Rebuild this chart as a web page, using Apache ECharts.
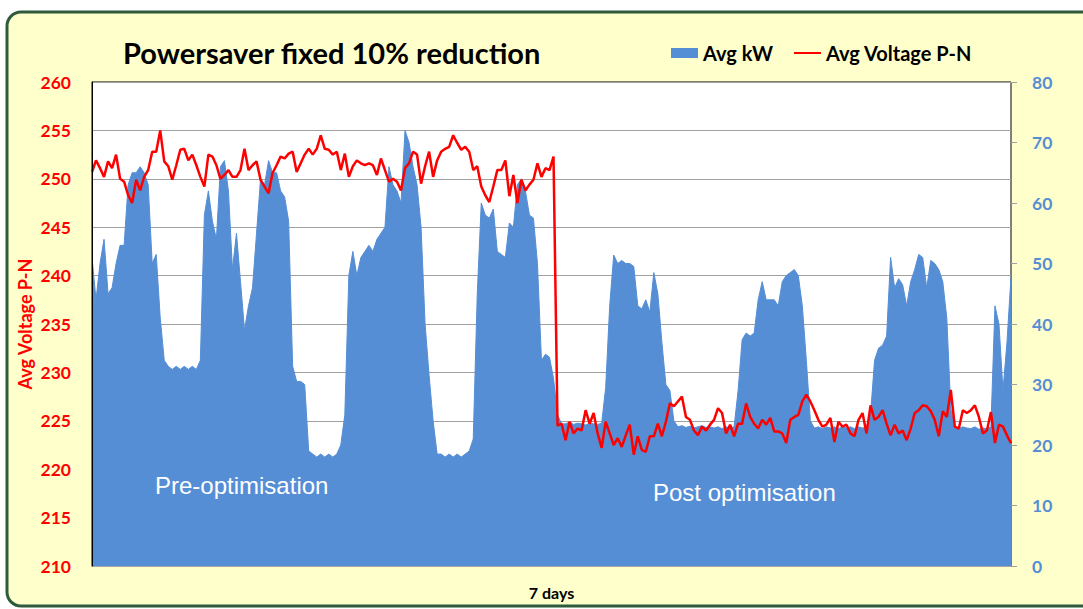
<!DOCTYPE html>
<html>
<head>
<meta charset="utf-8">
<script src="https://cdn.jsdelivr.net/npm/echarts@6/dist/echarts.min.js"></script>
<style>
html,body{margin:0;padding:0;background:#fff;}
#chart{width:1083px;height:609px;}
</style>
</head>
<body>
<div id="chart"></div>
<script>
// ---- data (7 days, evenly spaced samples) ----
const kwValues = [
51,44,50,54,45,46,50,53,53,63,
65,65,66,65,63,50,51.5,41,34,33,
32.5,33,32.5,33,32.5,33,32.5,34,58,62,
57,54,66,67,62,49,55,47,39,43,
46,55,64,63,67,65,65,62,61,57,
33,30.5,30.5,30,19,18.5,18,18.5,18,18.5,
18,18.5,20,25,48,52,48,51,52,53,
52,54,55,56,66,63,62,60,72,70,
66,63,56,40,31.5,24,18.5,18.5,18,18.5,
18,18.5,18,18.5,19,21,45,60,58,57.5,
59,52,51.5,51,56.7,56,63,64,62,58,
57.5,50,34,35,34.5,31,25,23.5,23.5,23.8,
23.4,23.6,23.5,23.3,23.6,23.5,23.4,23.6,29.5,43,
51.4,50,50.5,50,50,49.5,43,42.5,44,42,
48.5,45,37,30,29,24,23,23.2,22.9,23.1,
22.8,23,23.2,22.9,23,22.8,23,22.7,23,22.8,
23,29,37.4,38.5,38,38.5,44,47,44,44,
44,43,47,48,48.5,49,48,43,34,24,
22.8,23,22.7,23,22.8,23,22.7,23,22.8,23,
22.7,23,22.8,23,25,34,36,36.5,38,51,
46,47.5,46.5,43,47,49,51.5,51,46,50.5,
50,49,47,41,26,22.8,22.7,23,22.8,22.7,
23,22.6,22.8,22.7,23,43,40,29,37,47.8
];
const voltageValues = [
250.7,251.9,251.1,250.2,251.8,251.1,252.5,250.0,249.7,248.3,
247.5,249.9,248.8,250.2,250.9,252.8,252.8,255.0,251.8,251.3,
249.9,251.4,253.0,253.1,251.9,252.5,251.4,250.2,249.2,252.5,
252.3,251.4,250.0,250.4,250.9,250.2,250.2,250.9,253.1,250.9,
251.4,251.8,249.9,249.2,248.5,250.6,251.4,252.3,252.1,252.6,
252.8,250.7,251.6,252.5,253.1,252.5,253.1,254.5,253.1,253.0,
252.5,252.8,250.9,252.6,250.2,251.3,251.9,251.6,251.4,251.6,
251.4,250.4,252.1,250.9,249.7,250.0,249.7,248.8,251.1,251.6,
252.8,252.5,249.5,251.3,252.8,250.2,251.9,252.8,253.1,253.3,
254.5,253.7,253.0,253.3,252.8,250.9,251.3,249.2,248.3,247.6,
249.2,250.9,250.9,251.9,248.2,250.4,247.5,249.9,248.8,249.4,
249.9,251.6,250.2,251.1,250.9,252.3,224.5,224.7,223.0,224.9,
223.7,224.2,224.0,226.1,224.7,225.8,223.7,222.2,224.9,223.7,
222.5,223.2,222.3,223.5,224.6,221.5,223.4,222.0,221.8,223.4,
223.4,224.7,223.4,224.9,226.8,226.5,227.0,227.5,225.4,225.1,
224.0,223.5,224.4,224.0,224.6,225.1,226.3,225.8,223.7,224.6,
223.4,224.7,224.7,226.8,225.4,224.7,224.2,225.1,224.6,225.3,
223.9,223.9,223.7,222.7,225.1,225.4,225.6,227.0,227.7,227.0,
226.1,225.1,224.4,224.6,225.3,222.8,224.9,224.4,224.6,223.7,
223.4,225.1,225.8,223.7,226.6,225.1,225.4,226.1,224.7,223.5,
224.6,223.7,224.0,223.0,224.2,225.8,226.1,226.6,226.5,226.0,
225.1,223.4,226.0,225.4,228.2,224.4,224.2,226.1,225.8,226.1,
226.6,225.4,223.7,224.0,225.9,222.7,224.6,224.4,223.5,222.7
];
const xCategories = kwValues.map((_, i) => String(i + 1));
const voltageTicks = { min: 210, max: 260, step: 5 };
const kwTicks = { min: 0, max: 80, step: 10 };
const titleText = 'Powersaver fixed 10% reduction';
const xAxisTitle = '7 days';
const leftAxisTitle = 'Avg Voltage P-N';
const seriesNames = ['Avg kW', 'Avg Voltage P-N'];
const noteTexts = ['Pre-optimisation', 'Post optimisation'];

const BLUE = '#558ED5';
const RED = '#FF0000';
const FONT = 'Lato';
const NOTE_FONT = '24px "Liberation Sans", Arial, sans-serif';

const chart = echarts.init(document.getElementById('chart'), null, { renderer: 'svg' });
chart.setOption({
  backgroundColor: '#ffffff',
  animation: false,
  graphic: [
    { type: 'rect', z: -10, silent: true,
      shape: { x: 7, y: 12, width: 1100, height: 594, r: 14 },
      style: { fill: '#FFFFCC', stroke: '#2D5B3C', lineWidth: 3 } },
    { type: 'text', z: 100, left: 155, top: 473,
      style: { text: noteTexts[0], fill: '#ffffff', font: NOTE_FONT } },
    { type: 'text', z: 100, left: 653, top: 480,
      style: { text: noteTexts[1], fill: '#ffffff', font: NOTE_FONT } }
  ],
  title: {
    text: titleText, left: 118, top: 33,
    textStyle: { fontFamily: FONT, fontWeight: 'bold', fontSize: 29, color: '#000' }
  },
  legend: {
    left: 666, top: 38, itemWidth: 27, itemHeight: 10, itemGap: 20,
    textStyle: { fontFamily: FONT, fontWeight: 'bold', fontSize: 20, color: '#000' },
    data: [
      { name: seriesNames[0], icon: 'rect' },
      { name: seriesNames[1], itemStyle: { opacity: 0, borderWidth: 0 }, lineStyle: { width: 2 } }
    ]
  },
  grid: {
    left: 92, right: 72, top: 82, bottom: 43,
    show: true, backgroundColor: '#ffffff', borderColor: '#000', borderWidth: 1
  },
  xAxis: {
    type: 'category', data: xCategories, boundaryGap: false,
    name: xAxisTitle, nameLocation: 'middle', nameGap: 18,
    nameTextStyle: { fontFamily: FONT, fontWeight: 'bold', fontSize: 16, color: '#000' },
    axisLine: { show: true, lineStyle: { color: '#A6A6A6', width: 1 } },
    axisTick: { show: false }, axisLabel: { show: false }, splitLine: { show: false }
  },
  yAxis: [
    { type: 'value', position: 'left', min: voltageTicks.min, max: voltageTicks.max, interval: voltageTicks.step,
      name: leftAxisTitle, nameLocation: 'middle', nameGap: 58, nameMoveOverlap: false,
      nameTextStyle: { fontFamily: FONT, fontWeight: 'bold', fontSize: 18, color: RED },
      axisLine: { show: false }, axisTick: { show: false },
      axisLabel: { margin: 21, fontFamily: FONT, fontWeight: 'bold', fontSize: 17.5, color: RED },
      splitLine: { show: true, lineStyle: { color: '#A0A0A0', width: 1 } } },
    { type: 'value', position: 'right', min: kwTicks.min, max: kwTicks.max, interval: kwTicks.step,
      axisLine: { show: false },
      axisTick: { show: true, length: 6, inside: false, lineStyle: { color: '#A0A0A0' } },
      axisLabel: { margin: 21, fontFamily: FONT, fontWeight: 'bold', fontSize: 17.5, color: BLUE },
      splitLine: { show: false } },
    { type: 'value', position: 'left', min: voltageTicks.min, max: voltageTicks.max, z: 10,
      axisLine: { show: true, lineStyle: { color: '#000', width: 1 } },
      axisTick: { show: false }, axisLabel: { show: false }, splitLine: { show: false } }
  ],
  series: [
    { name: seriesNames[0], type: 'line', yAxisIndex: 1, data: kwValues,
      symbol: 'none', smooth: false,
      itemStyle: { color: BLUE },
      lineStyle: { color: BLUE, width: 1 },
      areaStyle: { color: BLUE, opacity: 1 } },
    { name: seriesNames[1], type: 'line', yAxisIndex: 0, data: voltageValues,
      symbol: 'none', smooth: false,
      itemStyle: { color: RED },
      lineStyle: { color: RED, width: 2.5 } }
  ]
});
</script>
</body>
</html>
